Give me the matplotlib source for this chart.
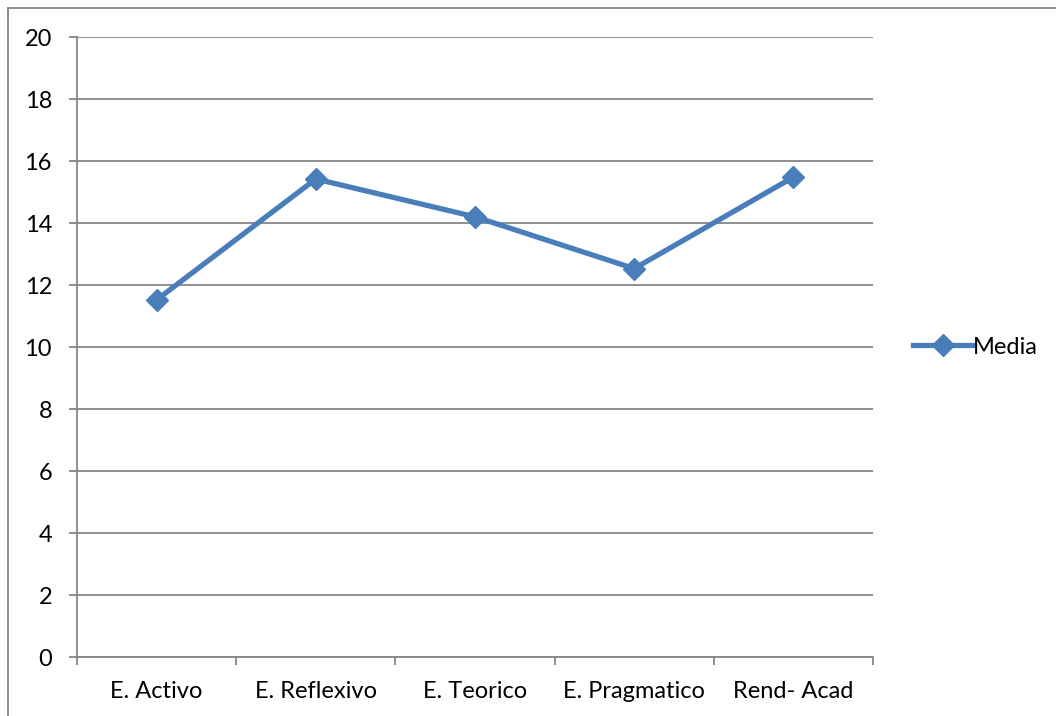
import matplotlib
matplotlib.use("Agg")
import matplotlib.pyplot as plt
from matplotlib.lines import Line2D
import numpy as np

categories = ["E. Activo", "E. Reflexivo", "E. Teorico", "E. Pragmatico", "Rend- Acad"]
media = [11.52, 15.42, 14.2, 12.53, 15.48]
y_ticks = [0, 2, 4, 6, 8, 10, 12, 14, 16, 18, 20]

plt.rcParams['font.family'] = ['Lato', 'DejaVu Sans']

fig = plt.figure(figsize=(10.56, 7.16), dpi=100)
ax = fig.add_axes([77/1056, 59/716, 796/1056, 620/716])

grid_col = "#868686"
blue = "#4A7EBB"

x = np.arange(len(categories))
ax.plot(x, media, color=blue, lw=3.8, marker="D", ms=11.5,
        markerfacecolor=blue, markeredgecolor=blue, label="Media",
        solid_joinstyle="miter", zorder=3)

ax.set_xlim(-0.5, len(categories) - 0.5)
ax.set_ylim(0, 20)
ax.set_yticks(y_ticks)
ax.set_yticklabels([str(v) for v in y_ticks])
ax.yaxis.grid(True, color=grid_col, lw=1.3)
ax.set_axisbelow(True)

# category labels centered, ticks on boundaries
ax.set_xticks(np.arange(-0.5, len(categories) + 0.5, 1.0))
ax.set_xticklabels([""] * (len(categories) + 1))
ax.set_xticks(x, minor=True)
ax.set_xticklabels(categories, minor=True)
ax.tick_params(axis="x", which="minor", length=0, pad=17, labelsize=17)
ax.tick_params(axis="x", which="major", length=6, width=1.3, color=grid_col)
ax.tick_params(axis="y", length=6, width=1.3, color=grid_col, pad=12, labelsize=17)

for s in ["top", "right"]:
    ax.spines[s].set_visible(False)
for s in ["left", "bottom"]:
    ax.spines[s].set_color(grid_col)
    ax.spines[s].set_linewidth(1.3)

leg = ax.legend(loc="center left", bbox_to_anchor=(1.035, 0.5), frameon=False,
                fontsize=17, handlelength=2.55, handletextpad=0.0, borderpad=0)

# chart area border (only top and left visible)
fig.add_artist(Line2D([8/1056, 1], [1 - 8/716, 1 - 8/716], color=grid_col, lw=1.3))
fig.add_artist(Line2D([8/1056, 8/1056], [0, 1 - 8/716], color=grid_col, lw=1.3))

fig.savefig("out.png", dpi=100)
